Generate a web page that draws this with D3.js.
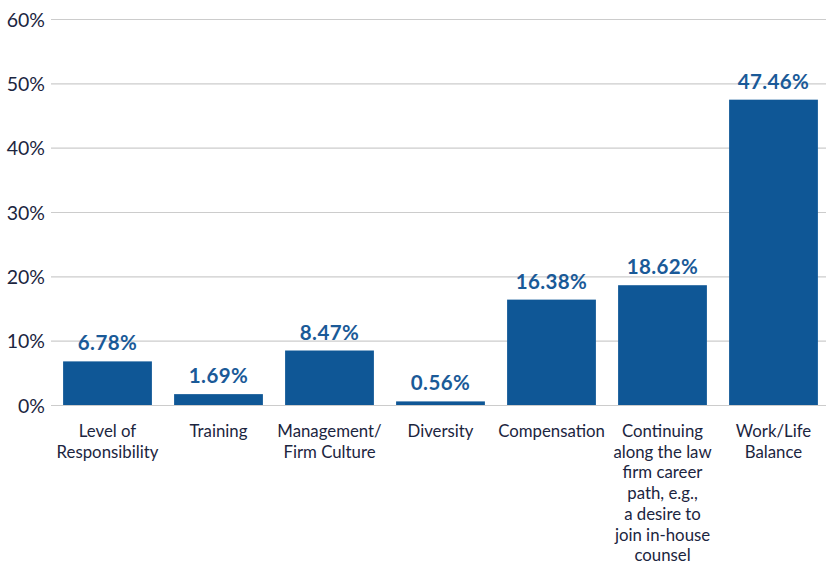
<!DOCTYPE html>
<html>
<head>
<meta charset="utf-8">
<script src="https://cdn.jsdelivr.net/npm/d3@7"></script>
<style>
  html, body { margin: 0; padding: 0; background: #fff; }
  svg { display: block; }
  text { font-family: Lato, "Open Sans", sans-serif; }
</style>
</head>
<body>
<svg id="chart" width="826" height="565"></svg>
<script>
// Reasons cited, share of respondents (%)
const categories = [
  ["Level of", "Responsibility"],
  ["Training"],
  ["Management/", "Firm Culture"],
  ["Diversity"],
  ["Compensation"],
  ["Continuing", "along the law", "firm career", "path, e.g.,", "a desire to", "join in-house", "counsel"],
  ["Work/Life", "Balance"]
];
const values = [6.78, 1.69, 8.47, 0.56, 16.38, 18.62, 47.46];
const yTicks = [0, 10, 20, 30, 40, 50, 60];

const svg = d3.select("#chart");
const W = 826;
const gridLeft = 51;

const x = d3.scaleBand()
  .domain(d3.range(values.length))
  .range([52, 829])
  .paddingInner(0.2)
  .paddingOuter(0.1);

const y = d3.scaleLinear()
  .domain([0, 60])
  .range([405, 19]);

// Gridlines and tick labels
const yAxis = d3.axisLeft(y)
  .tickValues(yTicks)
  .tickSize(-(W - gridLeft))
  .tickPadding(6)
  .tickFormat(d => d + "%");

const gy = svg.append("g")
  .attr("transform", `translate(${gridLeft},0)`)
  .call(yAxis);
gy.select(".domain").remove();
gy.selectAll(".tick line").attr("stroke", "#cccccc").attr("stroke-width", 1.2);
gy.selectAll(".tick text")
  .attr("fill", "#1b2540")
  .attr("font-size", 19.5)
  .attr("dy", "0.36em");

// Bars
svg.append("g").selectAll("rect")
  .data(values)
  .join("rect")
  .attr("x", (d, i) => x(i))
  .attr("width", x.bandwidth())
  .attr("y", d => y(d))
  .attr("height", d => y(0) - y(d))
  .attr("fill", "#0f5796");

// Value labels
svg.append("g").selectAll("text")
  .data(values)
  .join("text")
  .attr("x", (d, i) => x(i) + x.bandwidth() / 2)
  .attr("y", d => y(d) - 11)
  .attr("text-anchor", "middle")
  .attr("fill", "#1a5a98")
  .attr("font-size", 20.5)
  .attr("font-weight", 700)
  .attr("letter-spacing", 0.4)
  .text(d => d.toFixed(2) + "%");

// Category labels
const cat = svg.append("g").selectAll("text")
  .data(categories)
  .join("text")
  .attr("x", (d, i) => x(i) + x.bandwidth() / 2)
  .attr("y", 437)
  .attr("text-anchor", "middle")
  .attr("fill", "#1b2540")
  .attr("font-size", 16.8);
cat.selectAll("tspan")
  .data(d => d)
  .join("tspan")
  .attr("x", function () { return d3.select(this.parentNode).attr("x"); })
  .attr("dy", (d, i) => i === 0 ? 0 : 20.7)
  .text(d => d);
</script>
</body>
</html>
